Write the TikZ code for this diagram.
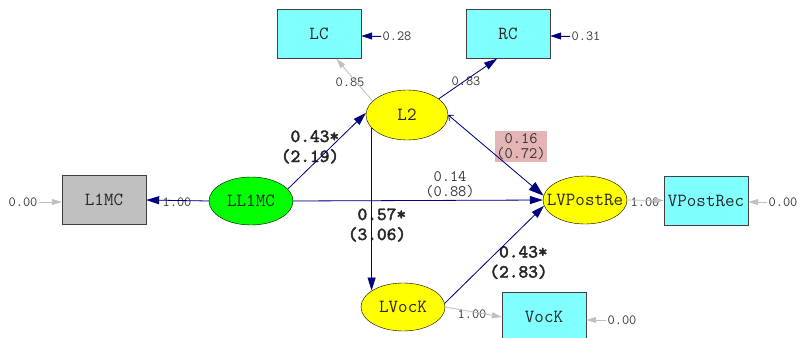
\documentclass[tikz,border=0pt]{standalone}
\usepackage{fontspec}
\newfontfamily\tvalfont{lmmono10-regular}[Extension=.otf, FakeBold=2.5]
\usepackage{tikz}
\usetikzlibrary{shapes.geometric, arrows.meta}
\definecolor{obscyan}{HTML}{80FFFF}
\definecolor{obsgray}{HTML}{C0C0C0}
\definecolor{latgreen}{HTML}{00FF00}
\definecolor{latyellow}{HTML}{FFFF00}
\definecolor{pathnavy}{HTML}{000080}
\definecolor{lightpath}{HTML}{C0C0C0}
\definecolor{covpink}{HTML}{E5B5B5}
\definecolor{labtext}{HTML}{333333}
\tikzstyle{observed} = [rectangle, minimum width=84pt, minimum height=49pt, inner sep=0pt, text centered, draw=black!75, fill=obscyan, text=black!85, font=\ttfamily\fontsize{18.5}{20}\selectfont]
\tikzstyle{latent} = [ellipse, minimum width=84pt, minimum height=48pt, inner sep=0pt, text centered, draw=black, fill=latyellow, text=black!85, font=\ttfamily\fontsize{18.5}{20}\selectfont]
\tikzstyle{coef} = [inner sep=1pt, text=labtext, font=\ttfamily\fontsize{14}{15}\selectfont]
\tikzstyle{tval} = [inner sep=1pt, align=right, text=black!85, font=\tvalfont\fontsize{18.5}{20}\selectfont]
\tikzstyle{pval} = [inner xsep=1pt, inner ysep=2.5pt, align=center, text=labtext, font=\ttfamily\fontsize{16}{15}\selectfont]
\tikzset{arw/.style={-{Triangle[length=13pt,width=8pt]},draw=pathnavy,fill=pathnavy,line width=0.8pt}}
\tikzset{garw/.style={-{Triangle[length=10pt,width=6pt]},draw=lightpath,fill=lightpath,line width=0.8pt}}

\begin{document}
\begin{tikzpicture}[x=1pt, y=-1pt]
			\useasboundingbox (0,0) rectangle (797,337);
			\node (LC) [observed] at (319,34) {LC};
			\node (RC) [observed] at (508,34) {RC};
			\node (L2) [latent, minimum width=82pt, minimum height=50pt] at (407,115) {L2};
			\node (LL1MC) [latent, fill=latgreen] at (251,201) {LL1MC};
			\node (L1MC) [observed, fill=obsgray] at (104,200) {L1MC};
			\node (LVPostRe) [latent] at (585,200) {\makebox[0pt]{LVPostRe}};
			\node (VPostRec) [observed] at (706,200.5) {\makebox[0pt]{VPostRec}};
			\node (LVocK) [latent] at (403,307) {LVocK};
			\node (VocK) [observed] at (544,317) {VocK};
			
			% error terms
			\node (eLC) [coef] at (397,36) {0.28};
			\node (eRC) [coef] at (586,36) {0.31};
			\node (eL1MC) [coef] at (23,202) {0.00};
			\node (eVPostRec) [coef] at (783,202) {0.00};
			\node (eVocK) [coef] at (622,320) {0.00};
			
			% loadings and paths
			\node (lLC) [coef] at (350,82) {0.85};
			\node (lRC) [coef] at (466,81) {0.83};
			\node (lL1MC) [coef] at (177,202) {1.00};
			\node (lVPostRec) [coef] at (645,202) {1.00};
			\node (lVocK) [coef] at (472,314) {1.00};
			\node (pL2) [tval] at (310,147) {0.43*\\(2.19)};
			\node (pVocK) [tval] at (377,225) {0.57*\\(3.06)};
			\node (pPost) [tval] at (518.5,262.5) {0.43*\\(2.83)};
			\node (pDirect) [pval] at (450,184.5) {0.14\\(0.88)};
			\node (pCov) [pval, fill=covpink] at (521,146.5) {0.16\\(0.72)};
			
			
			\draw [arw] (LL1MC.18) -- (L2.177);
			\draw [arw] (LL1MC.east) -- (LVPostRe.west);
			\draw [arw] (LL1MC.west) -- (L1MC.east);
			\draw [garw] (L2.158) -- (LC.-55);
			\draw [arw] (L2.27) -- (RC.-114);
			\draw [arw, {Straight Barb[length=4pt,width=7pt]}-{Triangle[length=15pt,width=10pt]}] (L2.0) -- (LVPostRe.174);
			\draw [arw] (L2.200) -- (L2.200 |- LVocK.152);
			\draw [arw] (LVocK.5) -- (LVPostRe.188);
			\draw [garw] (LVocK.east) -- (VocK.west);
			\draw [garw] (LVPostRe.east) -- (VPostRec.west);
			\draw [arw, -{Triangle[length=11pt,width=7pt]}] (eLC.west) -- (eLC.west -| LC.east);
			\draw [arw, -{Triangle[length=11pt,width=7pt]}] (eRC.west) -- (eRC.west -| RC.east);
			\draw [garw] (eL1MC.east) -- (eL1MC.east -| L1MC.west);
			\draw [garw] (eVPostRec.west) -- (eVPostRec.west -| VPostRec.east);
			\draw [garw] (eVocK.west) -- (eVocK.west -| VocK.east);
			
			
			\end{tikzpicture}
\end{document}
